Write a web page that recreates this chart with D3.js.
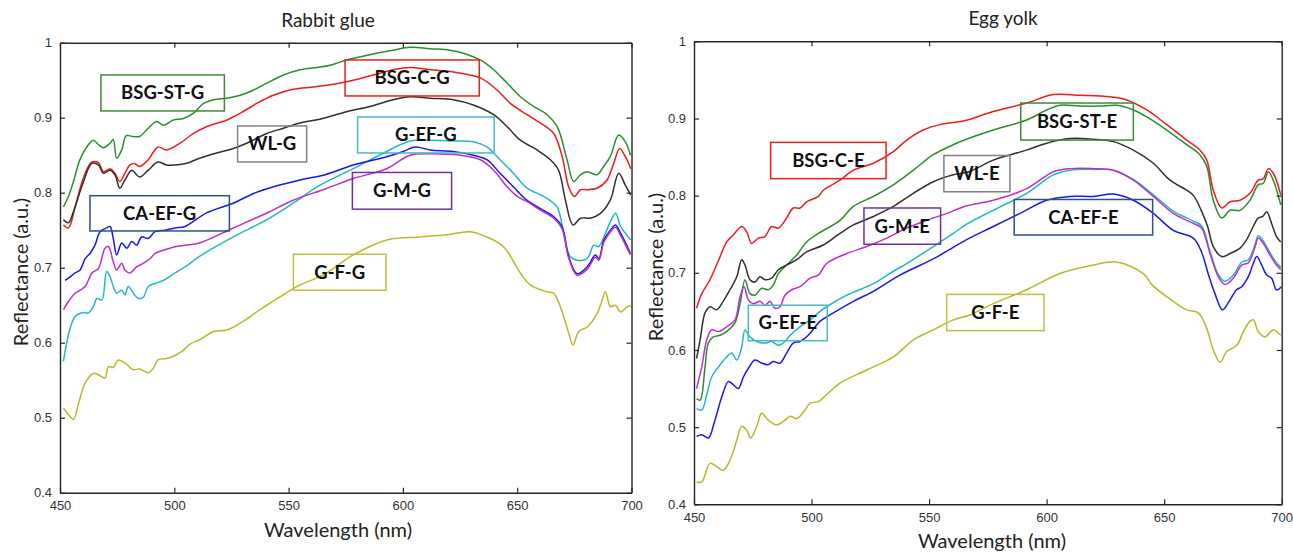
<!DOCTYPE html>
<head>
<meta charset="utf-8">
<title>Reflectance spectra</title>
<script src="https://d3js.org/d3.v7.min.js"></script>
<style>
  body { margin: 0; background: #fff; }
  .tick-lbl { font-family: 'Liberation Sans', Arial, sans-serif; font-size: 13px; fill: #333; }
  .ttl { font-family: Lato, 'Open Sans', sans-serif; font-size: 19px; fill: #222; }
  .axl { font-family: Lato, 'Open Sans', sans-serif; font-size: 20px; fill: #222; }
  .box-lbl { font-family: Lato, 'Open Sans', sans-serif; font-size: 18.5px; font-weight: bold; fill: #111; }
</style>
</head>
<body>
<script>
//TICKS
var wlTicks = [450, 500, 550, 600, 650, 700];
var rTicks = [0.4, 0.5, 0.6, 0.7, 0.8, 0.9, 1];

//SERIES NAMES & COLOURS
var seriesKeys = ['ST', 'C', 'WL', 'EF', 'CA', 'M', 'F'];
var lineColors = ['#2b8c2b', '#ee1c1c', '#303030', '#22b8c2', '#1818e8', '#bb30c8', '#b8b828'];
var boxColors  = ['#3f8a35', '#e8201f', '#808080', '#4bb8c8', '#2f4f88', '#7030a0', '#c0c040'];

//RABBIT GLUE  [wavelength nm, reflectance]
var rgST = [[451.5,.781],[453.7,.795],[455.9,.815],[458.7,.844],[461.7,.861],[464.6,.870],[466.8,.864],[469,.860],[471.9,.866],[473.3,.871],[474.8,.846],[477,.857],[479,.876],[481.8,.875],[484.8,.875],[488.6,.886],[492.3,.895],[495.2,.890],[499.6,.897],[504,.899],[508.4,.906],[512.8,.919],[517.2,.924],[523,.926],[528.9,.930],[534.7,.937],[540.5,.946],[547.8,.957],[555,.964],[562.4,.967],[568.2,.970],[575.4,.977],[585.6,.984],[595.8,.990],[603.1,.994],[611.9,.992],[620.6,.990],[626.4,.986],[633.9,.977],[639.7,.964],[645.6,.946],[651.4,.928],[657.2,.915],[663.1,.904],[667.5,.888],[671.8,.844],[674.7,.815],[677.7,.824],[680.6,.828],[684.9,.824],[687.8,.835],[690.7,.848],[694.4,.877],[697.3,.868],[699.5,.850]];
var rgC = [[451.5,.757],[453.7,.753],[456.6,.781],[459.5,.813],[462.4,.835],[464,.841],[466.8,.840],[469,.828],[471.9,.832],[474,.826],[476.2,.815],[478.4,.826],[480.6,.837],[482.5,.839],[484.8,.835],[488.6,.844],[492.9,.861],[496.6,.857],[502.5,.866],[508.4,.879],[514.1,.888],[523,.897],[528.9,.906],[536,.919],[543.3,.930],[552,.938],[560.9,.941],[568.2,.944],[575.4,.948],[587,.957],[595.8,.964],[603.1,.967],[611.9,.964],[622,.961],[629.4,.957],[633.9,.953],[641.2,.937],[647,.919],[654.3,.904],[661.6,.890],[666,.879],[669.7,.848],[672.5,.808],[675,.795],[677.7,.804],[680.6,.804],[684.9,.806],[689.3,.817],[692.2,.839],[694.8,.859],[697.3,.848],[699.7,.832]];
var rgWL = [[451.5,.764],[453.7,.760],[455.9,.775],[460.3,.815],[463.9,.839],[466.8,.837],[469,.826],[471.9,.830],[474,.824],[476.2,.806],[478.4,.817],[481.4,.830],[484.8,.821],[488.6,.830],[492.9,.841],[496.6,.837],[505,.839],[511,.846],[518.5,.853],[525.8,.859],[533.1,.868],[540.5,.879],[547.8,.886],[555,.893],[563.7,.898],[575.4,.908],[585.6,.915],[595.8,.924],[603.1,.928],[611.9,.926],[622,.924],[630.8,.917],[639.7,.904],[645.6,.888],[651.4,.870],[658.7,.857],[664.5,.844],[668.1,.830],[671.1,.790],[674.4,.757],[677.7,.766],[682,.766],[686.3,.772],[690.7,.790],[694.4,.826],[697.3,.810],[699.7,.797]];
var rgEF = [[451.5,.575],[452.9,.599],[454.4,.619],[456.6,.635],[459.5,.640],[462.4,.640],[464.6,.648],[466.1,.659],[468.3,.657],[470.4,.695],[471.9,.688],[473.3,.675],[474.8,.666],[477,.670],[478.4,.664],[479.9,.675],[482.1,.666],[484.3,.659],[486.5,.661],[488.6,.675],[491.6,.679],[495.9,.684],[500.3,.693],[504.7,.701],[511,.715],[525.8,.741],[540.5,.764],[552,.786],[563.7,.810],[578.3,.832],[592.9,.855],[603.1,.869],[611.9,.870],[622,.869],[630.8,.868],[636.7,.861],[642.5,.844],[648.3,.826],[654.3,.806],[661.6,.795],[667.4,.781],[670.3,.746],[673.2,.715],[676.2,.710],[680.6,.712],[683.5,.730],[685.6,.728],[688.6,.746],[690.7,.761],[693,.773],[695.2,.755],[697.3,.746],[699.7,.737]];
var rgCA = [[452.2,.683],[453.7,.686],[456.6,.693],[458.8,.697],[461,.712],[463.1,.719],[465.3,.730],[467.5,.748],[470.4,.753],[471.9,.755],[473.3,.739],[474.8,.717],[477,.733],[479.2,.726],[481.4,.735],[483.5,.730],[485.7,.741],[488.6,.739],[491.6,.748],[495.9,.750],[500.3,.753],[504.7,.755],[514.1,.773],[525.8,.786],[534.7,.799],[543.4,.808],[555,.817],[566,.824],[578.3,.837],[592.9,.848],[600.2,.855],[605.3,.861],[611.9,.857],[622,.855],[630.8,.850],[636.7,.844],[642.5,.826],[648.3,.808],[654.2,.790],[660,.779],[666,.768],[669.6,.755],[672.5,.715],[676.2,.692],[680.6,.701],[684.2,.717],[685.7,.712],[687.9,.737],[690.8,.750],[693,.757],[695.2,.746],[697.4,.733],[699.5,.719]];
var rgM = [[451.5,.644],[453.7,.655],[456.6,.666],[458.8,.670],[461,.675],[464,.693],[466.8,.699],[469.7,.726],[471.2,.728],[473.3,.708],[474.8,.697],[477,.706],[478.4,.697],[480.6,.693],[483.5,.701],[486.5,.706],[489.4,.712],[491.6,.719],[495.9,.724],[500.3,.728],[504.7,.730],[511,.733],[525.8,.753],[540.5,.773],[552,.790],[566,.805],[578.3,.819],[592.9,.832],[603.1,.850],[611.9,.852],[625,.850],[633.9,.844],[639.7,.830],[645,.810],[650,.795],[655,.787],[660,.777],[666,.766],[669.6,.752],[672.5,.713],[676.2,.690],[680.6,.698],[684.2,.714],[685.7,.710],[687.9,.734],[690.8,.748],[693,.754],[695.2,.743],[697.4,.730],[699.5,.717]];
var rgF = [[451.5,.513],[453.7,.504],[455.9,.498],[458.1,.519],[461,.546],[464.6,.559],[467.5,.556],[469.7,.553],[471.2,.568],[473.3,.567],[475.5,.577],[478.4,.573],[482.1,.564],[484.8,.565],[488.6,.560],[490.8,.566],[492.9,.577],[496.6,.579],[499.6,.582],[503.2,.588],[506.9,.598],[511.2,.604],[517.2,.615],[523,.617],[528.8,.626],[537.5,.644],[546.2,.661],[555,.677],[565,.690],[578.3,.717],[592.9,.737],[607.5,.741],[619.2,.744],[629.4,.748],[636.7,.741],[644,.728],[651.4,.693],[655.7,.677],[663,.668],[665.9,.666],[668.9,.648],[672.5,.613],[674.4,.597],[676.9,.615],[680.6,.621],[685,.639],[687.2,.657],[688.6,.668],[690.8,.648],[693,.650],[695.2,.641],[698.1,.648],[699.7,.649]];

//EGG YOLK  [wavelength nm, reflectance]
var egST = [[451.1,.537],[452.6,.535],[454.7,.578],[456.1,.609],[458.2,.617],[461.1,.619],[463.9,.624],[467.4,.635],[469.6,.660],[471.7,.691],[473.8,.673],[475.9,.671],[478.8,.680],[481.6,.678],[483.7,.684],[485.9,.699],[489.4,.710],[493.7,.723],[497.9,.740],[502.9,.751],[512.1,.768],[517.8,.786],[526.3,.799],[534.8,.814],[543.3,.833],[551.8,.853],[560.3,.866],[565,.872],[577.3,.885],[591.5,.898],[600,.911],[605.6,.917],[614.2,.916],[622.7,.916],[629.8,.917],[636.9,.911],[642.6,.902],[651.1,.885],[659.6,.866],[665.2,.853],[668.1,.838],[670.9,.794],[674.5,.771],[678,.781],[682.3,.781],[686.5,.794],[690,.814],[692.2,.816],[694.3,.831],[696.4,.820],[699.6,.788]];
var egC = [[451.1,.654],[453.3,.673],[456.8,.691],[461.1,.721],[463.9,.740],[466.7,.749],[470.3,.760],[472.4,.753],[474.5,.738],[477.4,.745],[480.2,.747],[483,.760],[485.9,.758],[489.4,.771],[492.2,.784],[495.1,.784],[497.9,.792],[502.9,.799],[505,.807],[512.1,.820],[517.8,.833],[526.3,.842],[534.8,.857],[540.5,.872],[547.5,.885],[554.6,.892],[565,.897],[577.3,.909],[591.5,.920],[602.9,.931],[614.2,.930],[626.9,.928],[634.1,.924],[642.6,.911],[651.1,.892],[659.6,.872],[665.2,.859],[668.1,.846],[670.9,.807],[674.5,.784],[678,.792],[682.3,.794],[686.5,.803],[690,.820],[692.2,.822],[694.3,.835],[696.4,.829],[699.6,.801]];
var egWL = [[451.1,.589],[452.6,.613],[454.7,.648],[456.8,.656],[459.6,.652],[462.4,.663],[465.3,.678],[468.2,.695],[470.3,.717],[471.7,.710],[473.8,.691],[475.9,.688],[478.1,.695],[480.2,.691],[483,.693],[485.9,.704],[489.4,.710],[493.7,.717],[497.9,.727],[505,.736],[512.1,.751],[517.8,.762],[526.3,.773],[534.8,.786],[543.3,.803],[551.8,.818],[560.3,.827],[567,.831],[577.3,.846],[591.5,.859],[600,.868],[610,.874],[619.9,.873],[628.4,.870],[636.9,.859],[645.4,.842],[652.5,.820],[659.6,.807],[662.5,.800],[665.9,.780],[668.5,.760],[670.9,.734],[674.5,.721],[678,.725],[682.3,.732],[685.1,.743],[687.9,.760],[690,.771],[691.9,.773],[693.6,.779],[695.7,.764],[697.8,.747],[699.6,.740]];
var egEF = [[451.1,.524],[453.3,.522],[455.4,.542],[457.5,.565],[460.4,.578],[463.9,.591],[466,.596],[468.2,.587],[470.3,.604],[471.7,.626],[473.8,.617],[476.7,.611],[480.2,.609],[483,.611],[485.9,.606],[488.7,.611],[490.9,.619],[495.1,.630],[499.4,.639],[503.6,.650],[506.4,.656],[515,.671],[526.3,.686],[534.8,.702],[540.5,.712],[551.8,.734],[560.3,.751],[566,.763],[577.3,.781],[591.5,.803],[602.9,.827],[610,.833],[619.9,.834],[628.4,.833],[636.9,.821],[645.4,.801],[653.9,.780],[662.4,.767],[665.9,.761],[669.5,.728],[673,.698],[675.8,.689],[679.4,.697],[683,.714],[685.8,.717],[688.7,.737],[690,.748],[692.2,.741],[695,.726],[697.8,.713],[699.6,.707]];
var egCA = [[451.1,.488],[453.3,.490],[456.1,.486],[458.9,.509],[461.8,.539],[464.6,.559],[466.7,.555],[468.9,.550],[471,.565],[473.1,.576],[475.9,.587],[478.8,.583],[481.6,.581],[483.7,.585],[486.6,.583],[489.4,.596],[492.2,.609],[495.1,.611],[498.6,.619],[503.6,.637],[509.3,.648],[517.8,.663],[526.3,.676],[537.6,.697],[551.8,.718],[560.3,.733],[566,.743],[577.3,.760],[588.7,.777],[600,.794],[610,.799],[619.9,.799],[628.4,.802],[636.9,.794],[645.4,.777],[653.9,.755],[662.4,.745],[665.9,.727],[668.7,.699],[671.6,.673],[674.8,.652],[678,.665],[680.8,.678],[683,.682],[685.8,.695],[687.9,.712],[689.4,.721],[691.5,.710],[693.6,.697],[695.7,.693],[697.8,.678],[699.9,.682]];
var egM = [[451.1,.550],[453.3,.578],[455.4,.613],[457.5,.626],[460.4,.624],[463.9,.630],[467.4,.639],[469.6,.669],[471.3,.682],[473.1,.665],[475.2,.660],[478.1,.663],[480.2,.658],[482.3,.663],[484.5,.654],[486.6,.656],[488.7,.671],[491.6,.678],[495.1,.682],[499.4,.693],[502.9,.697],[506.4,.712],[515,.725],[523.5,.734],[532,.745],[540.5,.758],[549,.768],[557.5,.777],[565,.786],[577.3,.794],[591.5,.809],[602.9,.831],[610,.835],[619.9,.835],[628.4,.833],[636.9,.820],[645.4,.799],[653.9,.777],[662.4,.764],[665.9,.758],[669.5,.725],[673,.695],[675.8,.685],[679.4,.693],[683,.710],[685.8,.713],[688.7,.734],[690,.745],[692.2,.738],[695,.723],[697.8,.710],[699.6,.704]];
var egF = [[451.1,.429],[453.3,.429],[456.8,.453],[459.6,.449],[462.4,.444],[465.3,.457],[468.2,.483],[470.3,.501],[472.4,.496],[474.1,.486],[476.7,.501],[478.8,.518],[481.6,.509],[485.2,.503],[488.7,.509],[490.9,.514],[493.7,.511],[497.2,.522],[499.4,.531],[502.9,.533],[506.4,.542],[512.1,.557],[523.5,.574],[534.8,.591],[543.3,.613],[551.8,.626],[560.3,.639],[567,.645],[577.3,.660],[591.5,.678],[605.7,.699],[619.9,.710],[629.8,.714],[641.1,.699],[645,.684],[651.1,.669],[659.6,.652],[664.5,.648],[668.1,.628],[670.9,.600],[673.8,.584],[676.6,.598],[680.9,.606],[683.7,.624],[686.5,.637],[688,.639],[690,.624],[692.9,.617],[696.4,.626],[699.6,.619]];

//LABEL BOXES  [wl left, wl right, refl top, refl bottom]
var rgLabels = ['BSG-ST-G', 'BSG-C-G', 'WL-G', 'G-EF-G', 'CA-EF-G', 'G-M-G', 'G-F-G'];
var rgBoxes = [[467.9,521.9,.957,.909],[574.7,633.4,.977,.929],[527.7,557.9,.889,.841],[580.2,639.9,.901,.853],[463.1,524.1,.796,.749],[577.9,621.3,.827,.778],[552.1,592.6,.718,.670]];
var egLabels = ['BSG-ST-E', 'BSG-C-E', 'WL-E', 'G-EF-E', 'CA-EF-E', 'G-M-E', 'G-F-E'];
var egBoxes = [[589,636.9,.920,.872],[482.6,531.7,.869,.822],[556.3,584.4,.852,.805],[473.1,506.7,.658,.612],[586.2,645.1,.795,.749],[522.3,554.9,.784,.737],[557.5,598.9,.672,.625]];

//PANELS
var panels = [
    { id: 'rg', title: 'Rabbit glue', series: [rgST, rgC, rgWL, rgEF, rgCA, rgM, rgF], labels: rgLabels, boxes: rgBoxes,
      px: [60, 631.5], py: [492.7, 42.7], titleX: 328, titleY: 27, xlX: 338, xlY: 537, ylX: 28, ylY: 272, tickGap: 6 },
    { id: 'eg', title: 'Egg yolk', series: [egST, egC, egWL, egEF, egCA, egM, egF], labels: egLabels, boxes: egBoxes,
      px: [694, 1281.7], py: [504.3, 41.3], titleX: 1003, titleY: 25, xlX: 992, xlY: 548, ylX: 663, ylY: 267, tickGap: 6 }
];

var svg = d3.select('body').append('svg')
    .attr('width', 1293)
    .attr('height', 553);

panels.forEach(drawPanel);

function drawPanel(p) {
    var x = d3.scaleLinear().domain([450, 700]).range(p.px);
    var y = d3.scaleLinear().domain([0.4, 1]).range(p.py);
    var g = svg.append('g');

    g.append('clipPath').attr('id', 'clip-' + p.id)
        .append('rect')
        .attr('x', p.px[0]).attr('y', p.py[1])
        .attr('width', p.px[1] - p.px[0]).attr('height', p.py[0] - p.py[1]);

    var line = d3.line()
        .x(d => x(d[0]))
        .y(d => y(d[1]))
        .curve(d3.curveCatmullRom.alpha(0.5));

    g.append('g').attr('clip-path', 'url(#clip-' + p.id + ')')
        .selectAll('path')
        .data(p.series).enter()
        .append('path')
        .attr('d', line)
        .attr('fill', 'none')
        .attr('stroke', (d, i) => lineColors[i])
        .attr('stroke-width', 1.5)
        .attr('stroke-linejoin', 'round');

    // label boxes
    var lb = g.selectAll('.lbl')
        .data(p.boxes).enter()
        .append('g').attr('class', 'lbl');
    lb.append('rect')
        .attr('x', d => x(d[0]))
        .attr('y', d => y(d[2]))
        .attr('width', d => x(d[1]) - x(d[0]))
        .attr('height', d => y(d[3]) - y(d[2]))
        .attr('fill', 'none')
        .attr('stroke', (d, i) => boxColors[i])
        .attr('stroke-width', 1.5);
    lb.append('text')
        .attr('class', 'box-lbl')
        .attr('x', d => (x(d[0]) + x(d[1])) / 2)
        .attr('y', d => (y(d[2]) + y(d[3])) / 2 + 6.5)
        .attr('text-anchor', 'middle')
        .text((d, i) => p.labels[i]);

    // axes: box with inward ticks (matlab style)
    var xAxB = d3.axisBottom(x).tickValues(wlTicks).tickSizeInner(-5).tickSizeOuter(0).tickPadding(p.tickGap + 2).tickFormat(d3.format('d'));
    var xAxT = d3.axisTop(x).tickValues(wlTicks).tickSizeInner(-5).tickSizeOuter(0).tickFormat('');
    var yAxL = d3.axisLeft(y).tickValues(rTicks).tickSizeInner(-5).tickSizeOuter(0).tickPadding(p.tickGap + 2).tickFormat(d3.format('~g'));
    var yAxR = d3.axisRight(y).tickValues(rTicks).tickSizeInner(-5).tickSizeOuter(0).tickFormat('');

    [[xAxB, 'translate(0,' + p.py[0] + ')'], [xAxT, 'translate(0,' + p.py[1] + ')'],
     [yAxL, 'translate(' + p.px[0] + ',0)'], [yAxR, 'translate(' + p.px[1] + ',0)']].forEach(a => {
        var ax = g.append('g').attr('transform', a[1]).call(a[0]);
        ax.select('.domain').attr('stroke', '#262626').attr('stroke-width', 1.4);
        ax.selectAll('.tick line').attr('stroke', '#262626').attr('stroke-width', 1.2);
        ax.selectAll('.tick text').attr('class', 'tick-lbl').attr('font-size', null).attr('font-family', null).attr('fill', null);
    });

    g.append('text').attr('class', 'ttl')
        .attr('x', p.titleX).attr('y', p.titleY)
        .attr('text-anchor', 'middle')
        .text(p.title);

    g.append('text').attr('class', 'axl')
        .attr('x', p.xlX).attr('y', p.xlY)
        .attr('text-anchor', 'middle')
        .text('Wavelength (nm)');

    g.append('text').attr('class', 'axl')
        .attr('transform', 'translate(' + p.ylX + ',' + p.ylY + ') rotate(-90)')
        .attr('text-anchor', 'middle')
        .text('Reflectance (a.u.)');
}
</script>
</body>
